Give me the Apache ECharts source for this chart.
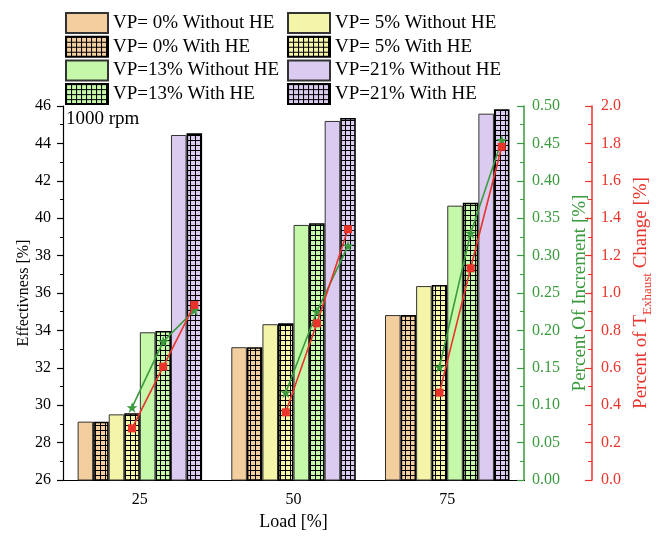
<!DOCTYPE html>
<html>
<head>
<meta charset="utf-8">
<script src="https://cdn.jsdelivr.net/npm/echarts@6/dist/echarts.min.js"></script>
<style>
  html, body { margin: 0; padding: 0; background: #fff; }
  #chart { width: 662px; height: 539px; }
</style>
</head>
<body>
<div id="chart"></div>
<script>
// Engine load categories
const loads = ['25', '50', '75'];

// Effectiveness [%] per load, one array per vapour-percentage / heat-exchanger case
const vp0Without  = [29.12, 33.10, 34.82];
const vp0With     = [29.12, 33.10, 34.82];
const vp5Without  = [29.51, 34.33, 36.37];
const vp5With     = [29.57, 34.38, 36.43];
const vp13Without = [33.90, 39.64, 40.67];
const vp13With    = [33.97, 39.73, 40.83];
const vp21Without = [44.45, 45.20, 45.59];
const vp21With    = [44.54, 45.36, 45.82];

// Percent of increment [%] for VP=5, 13, 21 % (with HE), per load
const increment25 = [0.097, 0.185, 0.227];
const increment50 = [0.117, 0.225, 0.313];
const increment75 = [0.151, 0.330, 0.454];

// Percent of exhaust temperature change [%] for VP=5, 13, 21 % (with HE), per load
const exhaust25 = [0.276, 0.606, 0.936];
const exhaust50 = [0.362, 0.838, 1.341];
const exhaust75 = [0.467, 1.132, 1.782];

const FONT = "'Liberation Serif', 'Times New Roman', serif";
const GREEN = '#3a9a3d';
const RED = '#e8342b';
const colors = { vp0: '#f3cf9f', vp5: '#f5f5a9', vp13: '#c5f9a9', vp21: '#dccbf1' };

// Grid hatch fill for the "With HE" bars
function hatch(base) {
  const c = document.createElement('canvas');
  c.width = 5; c.height = 5;
  const ctx = c.getContext('2d');
  ctx.fillStyle = base;
  ctx.fillRect(0, 0, 5, 5);
  ctx.fillStyle = '#000';
  ctx.fillRect(0, 0, 5, 1);
  ctx.fillRect(0, 0, 1, 5);
  return { image: c, repeat: 'repeat' };
}

const CAT_GAP = 0.19;
const N_BARS = 8;
// Centre of bar `barIdx` inside category `group`, in category units
function barCenter(group, barIdx) {
  const w = (1 - CAT_GAP) / N_BARS;
  return group + 0.5 - (1 - CAT_GAP) / 2 + (barIdx + 0.5) * w;
}

function plainBar(name, color, data) {
  return {
    name, type: 'bar', data, xAxisIndex: 0, yAxisIndex: 0,
    barCategoryGap: (CAT_GAP * 100) + '%', barGap: '0%',
    itemStyle: { color, borderColor: '#333', borderWidth: 1 }
  };
}
function hatchBar(name, color, data) {
  return {
    name, type: 'bar', data, xAxisIndex: 0, yAxisIndex: 0,
    barCategoryGap: (CAT_GAP * 100) + '%', barGap: '0%',
    itemStyle: { color: hatch(color), borderColor: '#000', borderWidth: 1.6 }
  };
}

const STAR = 'path://M50,0 L61.8,35.1 L98.9,35.1 L68.8,56.8 L80.3,91.9 L50,70.2 L19.7,91.9 L31.2,56.8 L1.1,35.1 L38.2,35.1 Z';
const withBarIdx = [3, 5, 7];

function groupLine(group, values, axis, color, symbol, size) {
  return {
    type: 'line', xAxisIndex: 2, yAxisIndex: axis, z: axis === 2 ? 6 : 5,
    data: values.map((v, i) => [barCenter(group, withBarIdx[i]), v]),
    symbol, symbolSize: size, showSymbol: true,
    lineStyle: { color, width: 1.6 },
    itemStyle: { color },
    silent: true
  };
}

const names = [
  'VP= 0% Without HE', 'VP= 0% With HE', 'VP= 5% Without HE', 'VP= 5% With HE',
  'VP=13% Without HE', 'VP=13% With HE', 'VP=21% Without HE', 'VP=21% With HE'
];

const legendBase = {
  orient: 'vertical', top: 7, itemWidth: 42, itemHeight: 20, itemGap: 1.7,
  icon: 'rect', textStyle: { fontSize: 19, fontFamily: FONT, color: '#000' },
  selectedMode: false
};

const chart = echarts.init(document.getElementById('chart'), null, { renderer: 'canvas' });
chart.setOption({
  animation: false,
  textStyle: { fontFamily: FONT },
  title: {
    text: '1000 rpm', left: 61, top: 105,
    textStyle: { fontSize: 19, fontWeight: 'normal', fontFamily: FONT, color: '#000' }
  },
  legend: [
    Object.assign({}, legendBase, { left: 60, data: [names[0], names[1], names[4], names[5]] }),
    Object.assign({}, legendBase, { left: 282, data: [names[2], names[3], names[6], names[7]] })
  ],
  grid: { left: 63, right: 136, top: 106, bottom: 59 },
  xAxis: [
    {
      type: 'category', position: 'bottom', data: loads,
      name: 'Load [%]', nameLocation: 'middle', nameGap: 31,
      nameTextStyle: { fontSize: 18, color: '#000', fontFamily: FONT },
      axisLine: { lineStyle: { color: '#000', width: 1.2 } },
      axisTick: { alignWithLabel: true, length: 7, lineStyle: { color: '#000', width: 1.2 } },
      axisLabel: { fontSize: 16, color: '#000', margin: 12, fontFamily: FONT }
    },
    {
      type: 'category', position: 'top', data: loads,
      axisLine: { lineStyle: { color: '#000', width: 1.2 } },
      axisTick: { alignWithLabel: true, inside: true, length: 7, lineStyle: { color: '#000', width: 1.2 } },
      axisLabel: { show: false }
    },
    { type: 'value', min: 0, max: loads.length, show: false }
  ],
  yAxis: [
    {
      type: 'value', position: 'left', min: 26, max: 46, interval: 2,
      name: 'Effectivness [%]', nameLocation: 'middle', nameGap: 31, nameRotate: 90,
      nameMoveOverlap: false,
      nameTextStyle: { fontSize: 16, color: '#000', fontFamily: FONT },
      axisLine: { show: true, lineStyle: { color: '#000', width: 1.2 } },
      axisTick: { show: true, length: 6, lineStyle: { color: '#000', width: 1.2 } },
      minorTick: { show: true, splitNumber: 2, length: 3, lineStyle: { color: '#000', width: 1 } },
      axisLabel: { fontSize: 16, color: '#000', margin: 12, fontFamily: FONT },
      splitLine: { show: false }
    },
    {
      type: 'value', position: 'right', offset: 0, min: 0, max: 0.5, interval: 0.05,
      name: 'Percent Of Increment [%]', nameLocation: 'middle', nameGap: 42, nameRotate: 90,
      nameTextStyle: { fontSize: 19, color: GREEN, fontFamily: FONT },
      axisLine: { show: true, lineStyle: { color: GREEN, width: 1.5 } },
      axisTick: { show: true, inside: true, length: 7, lineStyle: { color: GREEN, width: 1.2 } },
      minorTick: { show: true, splitNumber: 2, length: 4, lineStyle: { color: GREEN, width: 1 } },
      axisLabel: { fontSize: 16, color: GREEN, margin: 8, fontFamily: FONT, formatter: v => v.toFixed(2) },
      splitLine: { show: false }
    },
    {
      type: 'value', position: 'right', offset: 68, min: 0, max: 2, interval: 0.2,
      name: '{a|Percent of T}{s|Exhaust}{a| Change [%]}',
      nameLocation: 'middle', nameGap: 37, nameRotate: 90,
      nameTextStyle: {
        color: RED, fontFamily: FONT,
        rich: {
          a: { fontSize: 19, color: RED, fontFamily: FONT, lineHeight: 20, verticalAlign: 'top' },
          s: { fontSize: 13, color: RED, fontFamily: FONT, lineHeight: 14, padding: [9, 0, 0, 0], verticalAlign: 'top' }
        }
      },
      axisLine: { show: true, lineStyle: { color: RED, width: 1.5 } },
      axisTick: { show: true, inside: true, length: 7, lineStyle: { color: RED, width: 1.2 } },
      minorTick: { show: true, splitNumber: 2, length: 4, lineStyle: { color: RED, width: 1 } },
      axisLabel: { fontSize: 16, color: RED, margin: 9, fontFamily: FONT, formatter: v => v.toFixed(1) },
      splitLine: { show: false }
    }
  ],
  series: [
    plainBar(names[0], colors.vp0, vp0Without),
    hatchBar(names[1], colors.vp0, vp0With),
    plainBar(names[2], colors.vp5, vp5Without),
    hatchBar(names[3], colors.vp5, vp5With),
    plainBar(names[4], colors.vp13, vp13Without),
    hatchBar(names[5], colors.vp13, vp13With),
    plainBar(names[6], colors.vp21, vp21Without),
    hatchBar(names[7], colors.vp21, vp21With),
    groupLine(0, increment25, 1, GREEN, STAR, 11),
    groupLine(1, increment50, 1, GREEN, STAR, 11),
    groupLine(2, increment75, 1, GREEN, STAR, 11),
    groupLine(0, exhaust25, 2, RED, 'rect', 8),
    groupLine(1, exhaust50, 2, RED, 'rect', 8),
    groupLine(2, exhaust75, 2, RED, 'rect', 8)
  ]
});
</script>
</body>
</html>
